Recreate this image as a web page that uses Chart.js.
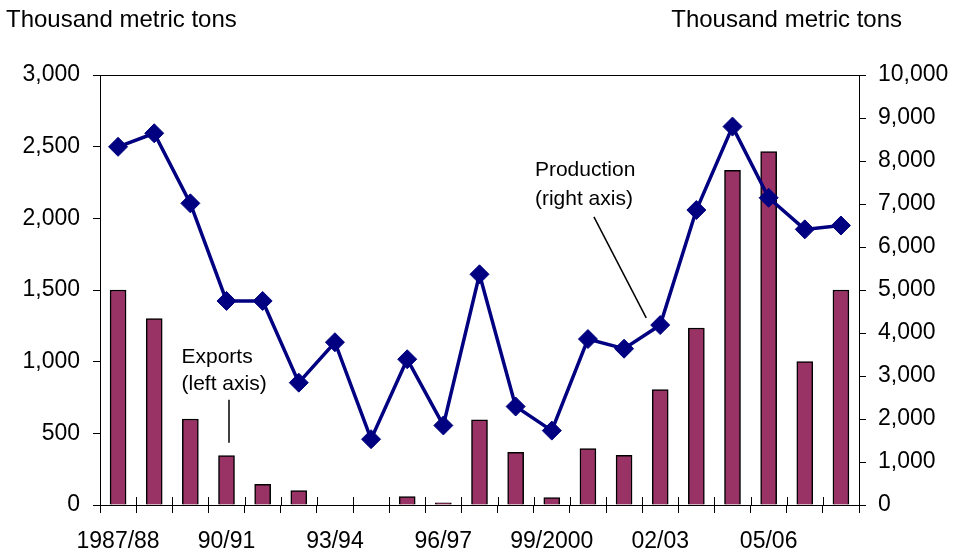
<!DOCTYPE html>
<html>
<head>
<meta charset="utf-8">
<script src="https://cdn.jsdelivr.net/npm/chart.js@4.4.0/dist/chart.umd.min.js"></script>
<style>
  html, body { margin: 0; padding: 0; background: #fff; }
</style>
</head>
<body>
<canvas id="exportsChart" width="955" height="554"></canvas>
<script>
// Seasons on the category axis, only every third one gets a label
const seasons = ['1987/88', '88/89', '89/90', '90/91', '91/92', '92/93', '93/94', '94/95', '95/96', '96/97',
  '97/98', '98/99', '99/2000', '2000/01', '01/02', '02/03', '03/04', '04/05', '05/06', '06/07', '07/08'];
const shownSeasons = ['1987/88', '90/91', '93/94', '96/97', '99/2000', '02/03', '05/06'];

// Exports (left axis) and production (right axis), thousand metric tons
const exportsLeft = [1500, 1300, 600, 345, 145, 100, 0, 0, 58, 16, 595, 368, 52, 393, 347, 805, 1235, 2335, 2465, 1000, 1500];
const productionRight = [8330, 8645, 7015, 4745, 4745, 2845, 3785, 1530, 3390, 1850, 5365, 2290, 1730, 3860, 3635, 4185, 6860, 8800, 7145, 6410, 6500];

const leftTicks = [0, 500, 1000, 1500, 2000, 2500, 3000];
const rightTicks = [0, 1000, 2000, 3000, 4000, 5000, 6000, 7000, 8000, 9000, 10000];

const FONT = 'Liberation Sans, Arial, sans-serif';

// titles, callouts and the upper half of the category tick marks
const decorations = {
  id: 'decorations',
  afterDraw(chart) {
    const { ctx, chartArea, scales } = chart;
    const x = scales.x, yL = scales.yLeft, yR = scales.yRight;
    ctx.save();
    ctx.fillStyle = '#000';
    ctx.strokeStyle = '#000';
    ctx.textBaseline = 'alphabetic';

    ctx.font = '24px ' + FONT;
    ctx.textAlign = 'left';
    ctx.fillText('Thousand metric tons', 6, 27);
    ctx.textAlign = 'right';
    ctx.fillText('Thousand metric tons', 902, 27);

    // tick marks crossing the bottom axis
    ctx.lineWidth = 1;
    const step = (chartArea.right - chartArea.left) / seasons.length;
    ctx.beginPath();
    for (let i = 0; i <= seasons.length; i++) {
      const px = Math.round(chartArea.left + i * step) + 0.5;
      ctx.moveTo(px, chartArea.bottom - 8);
      ctx.lineTo(px, chartArea.bottom);
    }
    ctx.stroke();

    // callouts
    ctx.font = '21px ' + FONT;
    ctx.textAlign = 'left';
    const ex = x.getPixelForValue(3);
    ctx.fillText('Exports', ex - 45, yL.getPixelForValue(990));
    ctx.fillText('(left axis)', ex - 45, yL.getPixelForValue(800));
    ctx.lineWidth = 1.5;
    ctx.beginPath();
    ctx.moveTo(ex + 2.5, yL.getPixelForValue(735));
    ctx.lineTo(ex + 2.5, yL.getPixelForValue(435));
    ctx.stroke();

    const px = x.getPixelForValue(13);
    ctx.fillText('Production', px - 53, yR.getPixelForValue(7650));
    ctx.fillText('(right axis)', px - 53, yR.getPixelForValue(6980));
    ctx.beginPath();
    ctx.moveTo(px + 6, yR.getPixelForValue(6700));
    ctx.lineTo(x.getPixelForValue(15) - 14, yR.getPixelForValue(4350));
    ctx.stroke();
    ctx.restore();
  }
};

const ctx = document.getElementById('exportsChart').getContext('2d');
new Chart(ctx, {
  type: 'bar',
  data: {
    labels: seasons,
    datasets: [{
      type: 'line',
      label: 'Production',
      data: productionRight,
      yAxisID: 'yRight',
      order: 0,
      borderColor: '#000080',
      borderWidth: 3.5,
      pointStyle: 'rectRot',
      pointRadius: 9.5,
      pointBackgroundColor: '#000080',
      pointBorderColor: '#000080',
      pointBorderWidth: 1,
      tension: 0
    }, {
      type: 'bar',
      label: 'Exports',
      data: exportsLeft,
      yAxisID: 'yLeft',
      order: 1,
      backgroundColor: '#993366',
      borderColor: '#000',
      borderWidth: 1.5,
      barThickness: 16
    }]
  },
  options: {
    responsive: false,
    animation: false,
    layout: { padding: { top: 75, left: 0, right: 0, bottom: 0 } },
    plugins: {
      legend: { display: false },
      tooltip: { enabled: false }
    },
    scales: {
      x: {
        offset: true,
        afterFit: s => { s.height = 49; },
        border: { display: true, color: '#000', width: 1 },
        grid: { offset: true, drawOnChartArea: false, tickLength: 8, color: '#000' },
        ticks: {
          autoSkip: false,
          maxRotation: 0,
          padding: 15,
          color: '#000',
          font: { family: FONT, size: 23 },
          callback: function (v) {
            const lab = this.getLabelForValue(v);
            return shownSeasons.includes(lab) ? lab : '';
          }
        }
      },
      yLeft: {
        position: 'left',
        min: 0,
        max: 3000,
        afterFit: s => { s.width = 100; },
        afterBuildTicks: s => { s.ticks = leftTicks.map(v => ({ value: v })); },
        border: { display: true, color: '#000', width: 1 },
        grid: {
          tickLength: 7,
          tickColor: '#000',
          color: c => (c.tick && c.tick.value === 3000 ? '#000' : 'rgba(0,0,0,0)')
        },
        ticks: {
          padding: 13,
          color: '#000',
          font: { family: FONT, size: 23 },
          callback: v => v.toLocaleString('en-US')
        }
      },
      yRight: {
        position: 'right',
        min: 0,
        max: 10000,
        afterFit: s => { s.width = 96; },
        afterBuildTicks: s => { s.ticks = rightTicks.map(v => ({ value: v })); },
        border: { display: true, color: '#000', width: 1 },
        grid: { drawOnChartArea: false, tickLength: 7, color: '#000' },
        ticks: {
          padding: 12,
          color: '#000',
          font: { family: FONT, size: 23 },
          callback: v => v.toLocaleString('en-US')
        }
      }
    }
  },
  plugins: [decorations]
});
</script>
</body>
</html>
